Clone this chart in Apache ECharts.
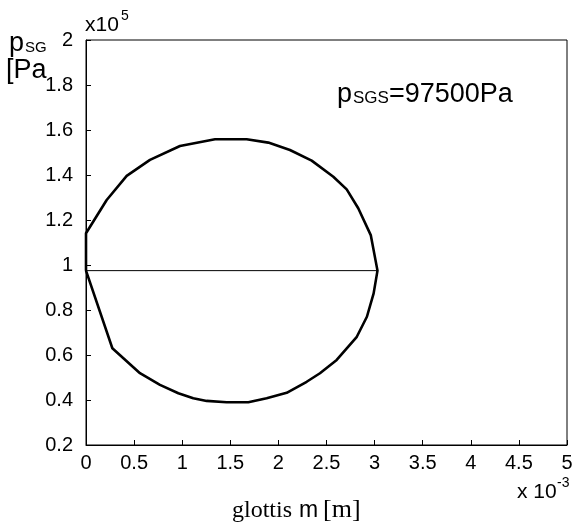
<!DOCTYPE html>
<html><head><meta charset="utf-8">
<script src="https://cdn.jsdelivr.net/npm/echarts@6/dist/echarts.min.js"></script>
<style>html,body{margin:0;padding:0;background:#fff}#c{width:576px;height:524px}</style>
</head><body><div id="c"></div>
<script>
// glottis opening m (x 1e-3 m) and subglottal pressure p_SG (x 1e5 Pa)
const loopX = [0, 0, 0.215, 0.423, 0.665, 0.977, 1.341, 1.670, 1.895, 2.12, 2.346, 2.571, 2.71, 2.83, 2.96, 3.03,
  2.99, 2.92, 2.815, 2.606, 2.432, 2.294, 2.086, 1.878, 1.687, 1.462, 1.254, 1.115, 0.96, 0.769, 0.561, 0.274, 0];
const loopY = [0.975, 1.141, 1.289, 1.396, 1.467, 1.529, 1.559, 1.559, 1.544, 1.511, 1.464, 1.392, 1.336, 1.252, 1.133, 0.975,
  0.874, 0.770, 0.681, 0.578, 0.519, 0.481, 0.432, 0.408, 0.390, 0.390, 0.396, 0.408, 0.430, 0.467, 0.519, 0.630, 0.975];
const refX = [0, 3.03];
const refY = [0.975, 0.975];
const xTicks = ['0','0.5','1','1.5','2','2.5','3','3.5','4','4.5','5'];
const yTicks = ['0.2','0.4','0.6','0.8','1','1.2','1.4','1.6','1.8','2'];

const chart = echarts.init(document.getElementById('c'), null, {renderer: 'canvas'});
const font = 'Liberation Sans, Arial, sans-serif';
const serif = 'Liberation Serif, Times New Roman, serif';
// baseline-positioned text: convert baseline y to middle of em box
function t(str, x, baseY, size, fam) {
  const k = fam === serif ? 0.3375 : 0.3465;
  return {type: 'text', x: x, y: baseY - k * size, style: {text: str, fontFamily: fam || font, fontSize: size,
    fill: '#000', verticalAlign: 'middle', align: 'left'}};
}
chart.setOption({
  animation: false,
  backgroundColor: '#fff',
  grid: {left: 86, top: 40, right: 9, bottom: 79, show: true, borderColor: '#000', borderWidth: 1},
  xAxis: {
    type: 'value', min: 0, max: 5, interval: 0.5,
    axisLine: {show: true, onZero: false, lineStyle: {color: '#000', width: 1}},
    axisTick: {show: true, inside: true, length: 5, lineStyle: {color: '#000'}},
    splitLine: {show: false},
    axisLabel: {color: '#000', fontFamily: font, fontSize: 20, margin: 8,
      formatter: v => xTicks[Math.round(v * 2)]}
  },
  yAxis: {
    type: 'value', min: 0.2, max: 2, interval: 0.2,
    axisLine: {show: true, onZero: false, lineStyle: {color: '#000', width: 1}},
    axisTick: {show: true, inside: true, length: 5, lineStyle: {color: '#000'}},
    splitLine: {show: false},
    axisLabel: {color: '#000', fontFamily: font, fontSize: 20, margin: 13,
      formatter: v => yTicks[Math.round(v * 5) - 1]}
  },
  series: [
    {type: 'line', data: loopX.map((x, i) => [x, loopY[i]]), showSymbol: false,
      lineStyle: {color: '#000', width: 2.6}, silent: true},
    {type: 'line', data: refX.map((x, i) => [x, refY[i]]), showSymbol: false,
      lineStyle: {color: '#000', width: 1}, silent: true}
  ],
  graphic: [
    t('x10', 85, 32, 21), t('5', 121, 21, 14),
    t('p', 9, 53, 27), t('SG', 25, 53, 15),
    t('[Pa', 6, 80, 27),
    t('p', 337, 104, 27), t('SGS', 353, 104, 17), t('=97500Pa', 389, 104, 27),
    t('x 10', 517, 499, 21), t('-3', 557, 488, 14),
    t('glottis', 232, 519, 24, serif), t('m', 299, 519, 23), t('[m]', 323, 519, 26, serif)
  ]
});
</script></body></html>
